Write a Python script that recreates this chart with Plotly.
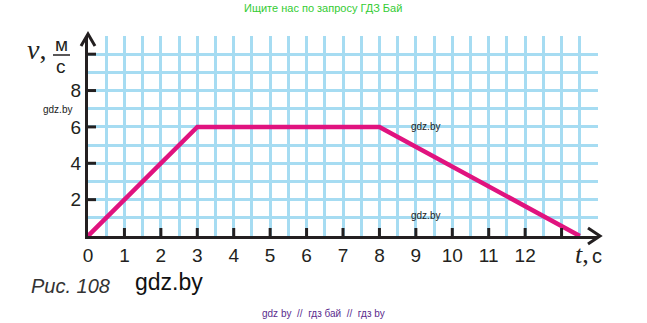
import plotly.graph_objects as go

# data
t_vals = [0, 3, 8, 13.5]
v_vals = [0, 6, 6, 0]
x_tickvals = list(range(0, 14))
x_ticktext = [str(i) for i in range(0, 13)] + [""]
y_tickvals = [2, 4, 6, 8, 10]
y_ticktext = ["2", "4", "6", "8", ""]

GRID = "#a6dcf2"
LINE = "#e0137f"
INK = "#231f20"
W, H = 647, 323
ML, MR, MT, MB = 88, 49, 36, 87
PW, PH = W - ML - MR, H - MT - MB
XR, YR = [0, 14], [0, 11]
TICK_PX = 8

fig = go.Figure()
fig.add_trace(go.Scatter(x=t_vals, y=v_vals, mode="lines",
                         line=dict(color=LINE, width=4.5), hoverinfo="skip",
                         cliponaxis=False))

tickfont = dict(family="Liberation Sans, Arial, sans-serif", size=19, color=INK)
fig.update_layout(
    width=W, height=H, margin=dict(l=ML, r=MR, t=MT, b=MB),
    paper_bgcolor="white", plot_bgcolor="white", showlegend=False,
    xaxis=dict(range=XR, tickvals=x_tickvals, ticktext=x_ticktext,
               ticks="", showline=True, linecolor=INK, linewidth=3, layer="above traces",
               showgrid=True, gridcolor=GRID, gridwidth=2.5, zeroline=False,
               minor=dict(dtick=0.5, showgrid=True, gridcolor=GRID, gridwidth=2.5),
               tickfont=tickfont, fixedrange=True),
    yaxis=dict(range=YR, tickvals=y_tickvals, ticktext=y_ticktext,
               ticks="", showline=True, linecolor=INK, linewidth=3, layer="above traces",
               showgrid=True, gridcolor=GRID, gridwidth=2.5, zeroline=False,
               minor=dict(dtick=1, showgrid=True, gridcolor=GRID, gridwidth=2.5),
               tickfont=tickfont, fixedrange=True),
)

# tick marks drawn in data units from the tick values
dy = TICK_PX * (YR[1] - YR[0]) / PH
dx = TICK_PX * (XR[1] - XR[0]) / PW
for tv in x_tickvals[1:]:
    fig.add_shape(type="line", xref="x", yref="y", x0=tv, x1=tv, y0=0, y1=dy,
                  line=dict(color=INK, width=3), layer="above")
for tv in y_tickvals:
    fig.add_shape(type="line", xref="x", yref="y", x0=0, x1=dx, y0=tv, y1=tv,
                  line=dict(color=INK, width=3), layer="above")

# arrow heads
fig.add_shape(type="path", xref="paper", yref="paper", xsizemode="pixel", ysizemode="pixel",
              xanchor=1, yanchor=0, path="M -10,8 L 2,0 L -10,-8",
              line=dict(color=INK, width=3))
fig.add_shape(type="path", xref="paper", yref="paper", xsizemode="pixel", ysizemode="pixel",
              xanchor=0, yanchor=1, path="M -7,-10 L 0,2 L 7,-10",
              line=dict(color=INK, width=3))

def px(x, y):
    return (x - ML) / PW, (H - MB - y) / PH

def ann(text, x, y, size, color=INK, family="Liberation Sans, Arial, sans-serif", xanchor="center"):
    ax, ay = px(x, y)
    fig.add_annotation(text=text, x=ax, y=ay, xref="paper", yref="paper", showarrow=False,
                       xanchor=xanchor, yanchor="middle",
                       font=dict(size=size, color=color, family=family))

# axis labels
ann("<i>v</i>,", 36, 50, 28, family="Liberation Serif, Times New Roman, serif")
ann("м", 61, 44, 19)
ann("с", 61, 66, 19)
lx0, ly = px(53, 55)
lx1, _ = px(70, 55)
fig.add_shape(type="line", xref="paper", yref="paper",
              x0=lx0, x1=lx1, y0=ly, y1=ly, line=dict(color=INK, width=1.5))
ann("<i>t</i>,", 582, 254, 26, family="Liberation Serif, Times New Roman, serif")
ann("с", 597, 256, 20)

# captions
ann("<i>Рис. 108</i>", 70, 286, 20, color="#333333")
ann("gdz.by", 169, 282, 23, color="#111111")
ann("gdz.by", 57, 109, 10, color="#222222")
ann("gdz.by", 425, 127, 10, color="#222222")
ann("gdz.by", 425, 215, 10, color="#222222")
ann("Ищите нас по запросу ГДЗ Бай", 323, 8, 11, color="#33cc33")
ann("gdz by  //  гдз бай  //  гдз by", 323, 313, 10, color="#5b2c8e")

fig.write_html("out.html")
